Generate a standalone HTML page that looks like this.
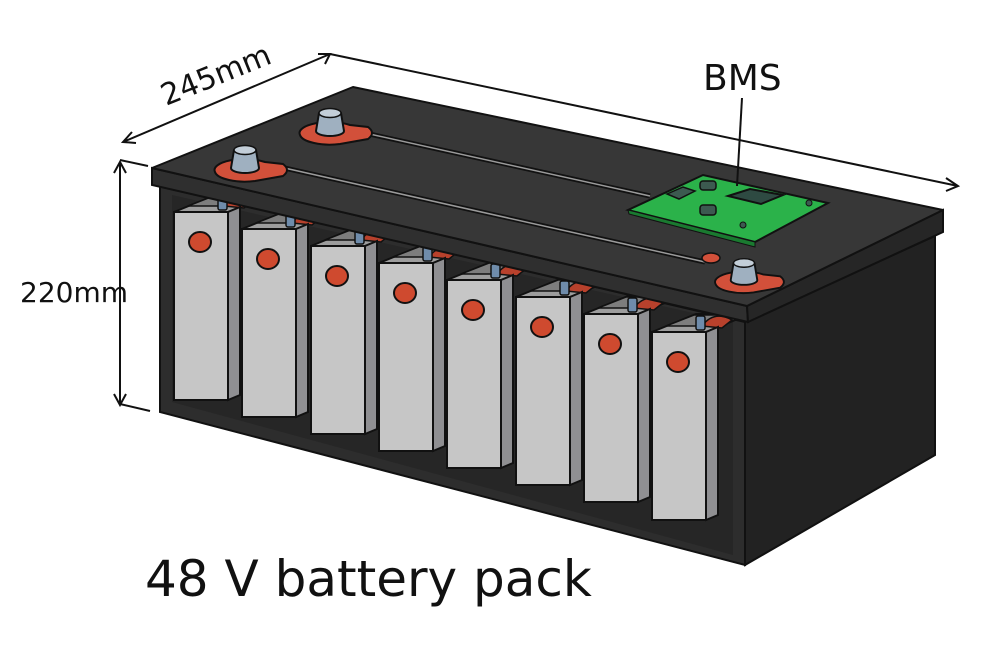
<!DOCTYPE html>
<html><head><meta charset="utf-8"><style>
html,body{margin:0;padding:0;background:#fff;}
svg{display:block;}
text{font-family:"DejaVu Sans","Liberation Sans",sans-serif;fill:#111;}
</style></head><body>
<svg width="1000" height="667" viewBox="0 0 1000 667" xmlns="http://www.w3.org/2000/svg">
<defs>
<g id="cell">
  <polygon points="0,0 54,0 98,-18 44,-18" fill="#9d9d9d" stroke="#111" stroke-width="2"/>
  <polygon points="14,-6 52,-6 80,-17 42,-17" fill="#7d7d7d" stroke="#111" stroke-width="1.5"/>
  <path d="M50,-6 Q62,-22 80,-12 L70,-4 Z" fill="#b8412c" stroke="#111" stroke-width="1.5"/>
  <rect x="44" y="-16" width="9" height="14" rx="2" fill="#6f8cab" stroke="#111" stroke-width="1.5"/>
  <polygon points="54,0 66,-5 66,183 54,188" fill="#8f8f92" stroke="#111" stroke-width="2"/>
  <rect x="0" y="0" width="54" height="188" fill="#c6c6c6" stroke="#111" stroke-width="2"/>
  <ellipse cx="26" cy="30" rx="11" ry="10" fill="#cf4a2f" stroke="#111" stroke-width="2"/>
</g>
<g id="term">
  <path d="M-30,2 A30,11 0 0 1 20,-8 L38,-6 Q46,0 38,6 L10,11 A30,11 0 0 1 -30,2 Z" fill="#d2503a" stroke="#111" stroke-width="2"/>
  <path d="M-14,-2 L-11,-20 A12,5 0 0 1 11,-20 L14,-2 A14,5 0 0 1 -14,-2 Z" fill="#9fb0c0" stroke="#111" stroke-width="2"/>
  <ellipse cx="0" cy="-20" rx="11" ry="4.5" fill="#c3ced8" stroke="#111" stroke-width="1.5"/>
</g>
</defs>

<polygon points="745,322 935,236 935,455 745,565" fill="#222" stroke="#111" stroke-width="2"/>
<polygon points="160,185 745,322 745,565 160,412" fill="#2d2d2d" stroke="#111" stroke-width="2"/>
<polygon points="172,195 733,322 733,555 172,402" fill="#262626"/>

<use href="#cell" transform="translate(174,212)"/>
<use href="#cell" transform="translate(242,229)"/>
<use href="#cell" transform="translate(311,246)"/>
<use href="#cell" transform="translate(379,263)"/>
<use href="#cell" transform="translate(447,280)"/>
<use href="#cell" transform="translate(516,297)"/>
<use href="#cell" transform="translate(584,314)"/>
<use href="#cell" transform="translate(652,332)"/>

<polygon points="152,168 747,306 748,322 152,185" fill="#2f2f2f" stroke="#111" stroke-width="2"/>
<polygon points="747,306 943,210 943,232 748,322" fill="#262626" stroke="#111" stroke-width="2"/>
<polygon points="152,168 353,87 943,210 747,306" fill="#373737" stroke="#111" stroke-width="2" stroke-linejoin="round"/>

<line x1="280" y1="167" x2="705" y2="262" stroke="#111" stroke-width="5"/>
<line x1="280" y1="167" x2="705" y2="262" stroke="#9a9a9a" stroke-width="1.5"/>
<line x1="365" y1="133" x2="650" y2="196" stroke="#111" stroke-width="5"/>
<line x1="365" y1="133" x2="650" y2="196" stroke="#9a9a9a" stroke-width="1.5"/>
<ellipse cx="711" cy="258" rx="9" ry="5" fill="#d2503a" stroke="#111" stroke-width="1.5"/>

<use href="#term" transform="translate(245,170)"/>
<use href="#term" transform="translate(330,133)"/>
<use href="#term" transform="translate(744,282) scale(0.95)"/>

<polygon points="628,210 703,175 828,203 755,242" fill="#2bb24a" stroke="#111" stroke-width="2"/>
<polygon points="628,210 755,242 755,247 629,214" fill="#1a7a30" stroke="#111" stroke-width="1"/>
<polygon points="667,194 683,187 695,191 679,199" fill="#3c5a50" stroke="#111" stroke-width="1.5"/>
<polygon points="728,196 750,189 783,195 761,204" fill="#2e4a42" stroke="#111" stroke-width="2"/>
<rect x="700" y="181" width="16" height="9" rx="3" fill="#3c5a50" stroke="#111" stroke-width="1.5"/>
<rect x="700" y="205" width="16" height="10" rx="3" fill="#3c5a50" stroke="#111" stroke-width="1.5"/>
<circle cx="809" cy="203" r="3" fill="#3c5a50" stroke="#111"/>
<circle cx="743" cy="225" r="3" fill="#3c5a50" stroke="#111"/>

<g stroke="#111" stroke-width="2" fill="none">
  <line x1="123" y1="142" x2="330" y2="54"/>
  <polyline points="132,132 123,142 136,143"/>
  <polyline points="318,54 330,54 325,64"/>
  <line x1="330" y1="54" x2="958" y2="186"/>
  <polyline points="946,178 958,186 946,191"/>
  <line x1="120" y1="163" x2="120" y2="404"/>
  <polyline points="114,173 120,162 126,173"/>
  <polyline points="114,394 120,405 126,394"/>
  <line x1="120" y1="160" x2="148" y2="166"/>
  <line x1="120" y1="404" x2="150" y2="411"/>
  <line x1="742" y1="98" x2="737" y2="186"/>
</g>

<text x="0" y="0" font-size="30" transform="translate(166,106) rotate(-22)">245mm</text>
<text x="20" y="302" font-size="28">220mm</text>
<text x="703" y="90" font-size="36">BMS</text>
<text x="145" y="596" font-size="50">48 V battery pack</text>
</svg>
</body></html>
